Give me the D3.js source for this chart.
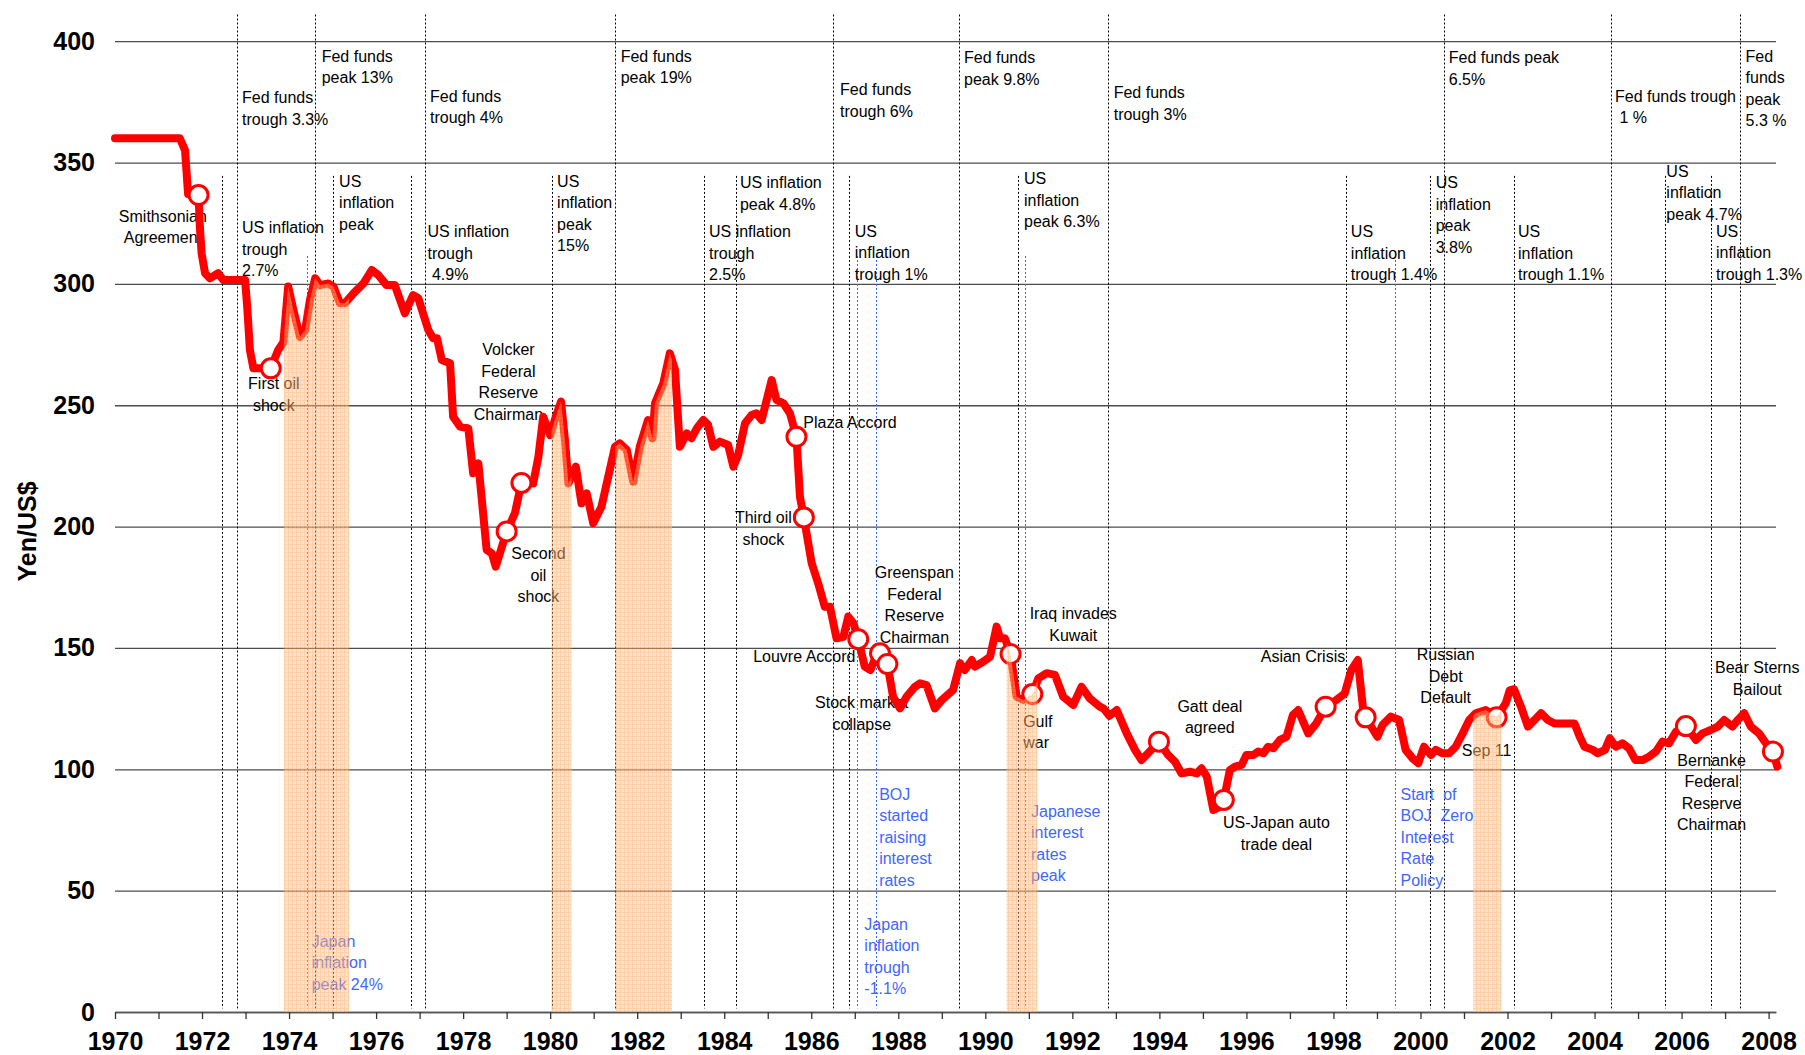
<!DOCTYPE html>
<html>
<head>
<meta charset="utf-8">
<script src="https://cdn.jsdelivr.net/npm/d3@7"></script>
<style>
body { margin: 0; background: #fff; }
svg { display: block; font-family: "Liberation Sans", Arial, sans-serif; }
.note { white-space: pre; font-size: 16px; }
</style>
</head>
<body>
<div id="chart"></div>
<script>
/* global d3 */

// yen per US dollar, [year, value]
var yenSeries = [
    [1970.00, 360], [1971.49, 360], [1971.61, 355], [1971.68, 337], [1971.92, 336.6],
    [1971.95, 323.6], [1971.99, 312.6], [1972.07, 304.4], [1972.18, 302.3], [1972.37, 304.4],
    [1972.49, 301.6], [1972.99, 301.6], [1973.04, 290], [1973.10, 272.8], [1973.18, 265.2],
    [1973.41, 265.2], [1973.58, 265.2], [1973.75, 272.8], [1973.87, 276], [1973.98, 298.9],
    [1974.10, 289.2], [1974.25, 278.2], [1974.37, 281], [1974.48, 293.4], [1974.60, 302.3],
    [1974.71, 299.5], [1974.90, 300.2], [1975.02, 298.9], [1975.17, 292], [1975.28, 292],
    [1975.48, 296.1], [1975.71, 300.2], [1975.90, 305.7], [1976.05, 303.7], [1976.24, 299.5],
    [1976.43, 299.5], [1976.66, 287.9], [1976.85, 295.4], [1976.97, 294.1], [1977.20, 281],
    [1977.31, 277.6], [1977.40, 277.6], [1977.51, 268.6], [1977.70, 267.3], [1977.77, 245.3],
    [1977.93, 241.2], [1978.12, 240.5], [1978.23, 222], [1978.35, 226], [1978.54, 190.4],
    [1978.66, 189], [1978.75, 183.5], [1979.00, 198], [1979.19, 205.5], [1979.34, 218],
    [1979.61, 217.8], [1979.73, 228.8], [1979.84, 245.3], [1980.00, 237.7], [1980.13, 245.3],
    [1980.25, 251.5], [1980.34, 235.7], [1980.42, 217.8], [1980.59, 224.7], [1980.72, 209.6],
    [1980.84, 213.7], [1980.99, 201.4], [1981.18, 208.2], [1981.49, 232.9], [1981.60, 234.3],
    [1981.76, 231.6], [1981.91, 218.5], [1982.06, 232.9], [1982.25, 243.9], [1982.35, 236.4],
    [1982.41, 250.8], [1982.60, 259], [1982.75, 271.4], [1982.87, 264.5], [1982.98, 232.9],
    [1983.14, 238.4], [1983.25, 236.4], [1983.37, 240.5], [1983.52, 243.9], [1983.63, 241.9],
    [1983.75, 232.9], [1983.90, 235], [1984.09, 233.6], [1984.21, 224.7], [1984.32, 229.5],
    [1984.48, 242.6], [1984.63, 246], [1984.74, 246.7], [1984.86, 243.9], [1985.09, 260.4],
    [1985.20, 252.2], [1985.36, 250.8], [1985.51, 246.7], [1985.66, 237], [1985.74, 212.3],
    [1985.83, 203.8], [1986.01, 184.9], [1986.16, 176.6], [1986.31, 167], [1986.43, 167],
    [1986.58, 154], [1986.74, 154.6], [1986.85, 162.9], [1986.97, 160.2], [1987.08, 153.6],
    [1987.23, 142.3], [1987.36, 140.9], [1987.52, 148], [1987.58, 147.8], [1987.75, 143.4],
    [1987.88, 129.9], [1988.04, 125.1], [1988.19, 129.9], [1988.38, 134], [1988.50, 135.4],
    [1988.65, 134.7], [1988.84, 125.1], [1989.00, 128.6], [1989.26, 132.7], [1989.42, 143.7],
    [1989.53, 140.9], [1989.69, 145], [1989.76, 142.3], [1989.95, 144.3], [1990.11, 146.4],
    [1990.26, 158.8], [1990.34, 154], [1990.45, 154], [1990.58, 147.5], [1990.72, 129.9],
    [1990.87, 128.6], [1991.08, 131], [1991.22, 137.5], [1991.41, 139.6], [1991.60, 138.9],
    [1991.79, 129.9], [1992.02, 126.5], [1992.21, 134], [1992.40, 129.2], [1992.63, 125.8],
    [1992.72, 125], [1992.85, 122], [1993.02, 124.4], [1993.25, 114.8], [1993.44, 108],
    [1993.59, 103.8], [1993.74, 106.6], [1993.99, 111.4], [1994.20, 105.9], [1994.36, 103.1],
    [1994.51, 98.3], [1994.70, 99], [1994.86, 98.3], [1994.97, 100.4], [1995.09, 97],
    [1995.24, 83.2], [1995.39, 84.6], [1995.48, 87.4], [1995.62, 99.7], [1995.74, 101.1],
    [1995.89, 101.8], [1996.00, 105.9], [1996.16, 105.9], [1996.27, 107.3], [1996.39, 106.6],
    [1996.50, 109.3], [1996.62, 108.7], [1996.77, 112.1], [1996.92, 113.4], [1997.07, 122.4],
    [1997.19, 124.4], [1997.42, 114.8], [1997.61, 119], [1997.82, 125.8], [1998.07, 128.6],
    [1998.26, 131.3], [1998.41, 140.9], [1998.56, 145], [1998.68, 125.1], [1998.74, 121.4],
    [1999.01, 113.4], [1999.13, 118.3], [1999.32, 121.7], [1999.51, 120.3], [1999.66, 108],
    [1999.82, 104.5], [1999.95, 102.5], [2000.08, 109.3], [2000.24, 105.9], [2000.35, 108],
    [2000.51, 106.6], [2000.66, 106.6], [2000.81, 109.3], [2000.97, 114.8], [2001.12, 120.3],
    [2001.27, 123.1], [2001.50, 124.4], [2001.75, 121.4], [2001.96, 127.2], [2002.05, 132.5],
    [2002.15, 133], [2002.31, 125.8], [2002.47, 117.6], [2002.62, 120.3], [2002.77, 123.1],
    [2002.93, 120.3], [2003.08, 118.9], [2003.31, 118.9], [2003.54, 118.9], [2003.66, 113.4],
    [2003.77, 109.3], [2003.96, 108], [2004.07, 106.6], [2004.24, 108], [2004.35, 112.8],
    [2004.49, 109.3], [2004.64, 110.7], [2004.79, 108.7], [2004.94, 103.8], [2005.10, 103.8],
    [2005.25, 105.2], [2005.41, 107.3], [2005.56, 111.4], [2005.71, 110.7], [2005.87, 115.5],
    [2006.10, 117.8], [2006.33, 112.1], [2006.48, 114.8], [2006.67, 116.2], [2006.83, 117.6],
    [2006.98, 120.3], [2007.17, 117.6], [2007.29, 120.3], [2007.44, 123.1], [2007.59, 117.6],
    [2007.78, 114.8], [2007.94, 110.7], [2008.10, 107.3], [2008.20, 101.1]
];

var yTicks = [0, 50, 100, 150, 200, 250, 300, 350, 400];
var xTicks = d3.range(1970, 2009);

// US recessions (shaded)
var recessions = [[1973.88, 1975.38], [1980.03, 1980.49], [1981.50, 1982.80], [1990.49, 1991.20], [2001.21, 2001.86]];

// event markers on the line, [year, value]
var eventMarkers = [
    [1971.92, 336.6], [1973.58, 265.2], [1979.00, 198], [1979.34, 218], [1985.66, 237],
    [1985.83, 203.8], [1987.08, 153.6], [1987.58, 147.8], [1987.75, 143.4], [1990.58, 147.5],
    [1991.08, 131], [1993.99, 111.4], [1995.48, 87.4], [1997.82, 125.8], [1998.74, 121.4],
    [2001.75, 121.4], [2006.10, 117.8], [2008.10, 107.3]
];

var fedFundsYears = [1972.81, 1974.60, 1977.12, 1981.50, 1986.49, 1989.40, 1992.83, 2000.53, 2004.37, 2007.34];
var inflationYears = [1972.47, 1975.02, 1976.81, 1980.05, 1983.53, 1984.28, 1986.87, 1990.76, 1998.28, 2000.23, 2002.15, 2005.62, 2006.67];
var japanYears = [1974.41, 1987.06, 1987.48, 1990.92, 1999.42];

var fedFundsNotes = [
    { text: "Fed funds|trough 3.3%", year: 1972.92, value: 374.4 },
    { text: "Fed funds|peak 13%", year: 1974.75, value: 391.6 },
    { text: "Fed funds|trough 4%", year: 1977.24, value: 375.1 },
    { text: "Fed funds|peak 19%", year: 1981.62, value: 391.6 },
    { text: "Fed funds|trough 6%", year: 1986.66, value: 377.8 },
    { text: "Fed funds|peak 9.8%", year: 1989.51, value: 390.9 },
    { text: "Fed funds|trough 3%", year: 1992.95, value: 376.5 },
    { text: "Fed funds peak|6.5%", year: 2000.65, value: 390.9 },
    { text: "Fed funds trough| 1 %", year: 2004.47, value: 375.1 },
    { text: "Fed|funds|peak|5.3 %", year: 2007.47, value: 391.6 }
];

var inflationNotes = [
    { text: "US inflation|trough|2.7%", year: 1972.92, value: 320.8 },
    { text: "US|inflation|peak", year: 1975.15, value: 340.1 },
    { text: "US inflation|trough| 4.9%", year: 1977.18, value: 319.2 },
    { text: "US|inflation|peak|15%", year: 1980.16, value: 340.1 },
    { text: "US inflation|trough|2.5%", year: 1983.65, value: 319.2 },
    { text: "US inflation|peak 4.8%", year: 1984.36, value: 339.4 },
    { text: "US|inflation|trough 1%", year: 1987.00, value: 319.4 },
    { text: "US|inflation|peak 6.3%", year: 1990.89, value: 341.0 },
    { text: "US|inflation|trough 1.4%", year: 1998.40, value: 319.2 },
    { text: "US|inflation|peak|3.8%", year: 2000.35, value: 339.4 },
    { text: "US|inflation|trough 1.1%", year: 2002.24, value: 319.2 },
    { text: "US|inflation|peak 4.7%", year: 2005.65, value: 344.2 },
    { text: "US|inflation|trough 1.3%", year: 2006.79, value: 319.4 }
];

var japanNotes = [
    { text: "Japan|inflation|peak 24%", year: 1974.52, value: 26.9 },
    { text: "BOJ|started|raising|interest|rates", year: 1987.56, value: 87.4 },
    { text: "Japan|inflation|trough|-1.1%", year: 1987.22, value: 33.8 },
    { text: "Japanese|interest|rates|peak", year: 1991.05, value: 80.5 },
    { text: "Start  of|BOJ  Zero|Interest|Rate|Policy", year: 1999.54, value: 87.4 }
];

var eventNotes = [
    { text: "Smithsonian|Agreement", year: 1971.10, value: 325.6 },
    { text: "First oil|shock", year: 1973.65, value: 256.6 },
    { text: "Volcker|Federal|Reserve|Chairman", year: 1979.04, value: 270.6 },
    { text: "Second|oil|shock", year: 1979.73, value: 186.5 },
    { text: "Plaza Accord", year: 1986.89, value: 240.5 },
    { text: "Third oil|shock", year: 1984.90, value: 201.4 },
    { text: "Louvre Accord", year: 1985.84, value: 144.3 },
    { text: "Greenspan|Federal|Reserve|Chairman", year: 1988.37, value: 178.7 },
    { text: "Stock market|collapse", year: 1987.16, value: 125.1 },
    { text: "Iraq invades|Kuwait", year: 1992.02, value: 161.8 },
    { text: "Gatt deal|agreed", year: 1995.16, value: 123.7 },
    { text: "US-Japan auto|trade deal", year: 1996.69, value: 75.7 },
    { text: "Asian Crisis", year: 1997.30, value: 144.3 },
    { text: "Russian|Debt|Default", year: 2000.58, value: 145.0 },
    { text: "Sep 11", year: 2001.52, value: 105.5 },
    { text: "Bernanke|Federal|Reserve|Chairman", year: 2006.69, value: 101.5 },
    { text: "Bear Sterns|Bailout", year: 2007.74, value: 139.6 }
];
var gulfNote = [{ text: "Gulf|war", year: 1990.87, value: 117.6 }];

var width = 1805,
    height = 1055,
    lineHeight = 21.5;

var x = d3.scaleLinear().domain([1970, 2008.17]).range([115, 1776]);
var y = d3.scaleLinear().domain([0, 400]).range([1012, 41.2]);

var svg = d3.select("#chart").append("svg")
    .attr("width", width)
    .attr("height", height);

var defs = svg.append("defs");

var pattern = defs.append("pattern")
    .attr("id", "hatch")
    .attr("patternUnits", "userSpaceOnUse")
    .attr("width", 4)
    .attr("height", 4);
pattern.append("rect").attr("width", 4).attr("height", 4).attr("fill", "#ffc48e");
pattern.append("path").attr("d", "M0,0.5H4M0.5,0V4").attr("stroke", "#ff9f50").attr("stroke-width", 1);

var clip = defs.append("clipPath").attr("id", "recessionClip");
clip.selectAll("rect")
    .data(recessions)
    .enter().append("rect")
    .attr("x", function (d) { return x(d[0]); })
    .attr("width", function (d) { return x(d[1]) - x(d[0]); })
    .attr("y", 0)
    .attr("height", height);

// horizontal grid + y labels
var yAxis = svg.append("g")
    .attr("transform", "translate(" + x(1970) + ",0)")
    .call(d3.axisLeft(y)
        .tickValues(yTicks)
        .tickSize(-(x.range()[1] - x.range()[0]))
        .tickPadding(20));
yAxis.select(".domain").remove();
yAxis.selectAll(".tick line").attr("stroke", "#4d4d4d").attr("stroke-width", 1.3);
yAxis.selectAll(".tick text")
    .attr("fill", "#000")
    .style("font-size", "25px")
    .style("font-weight", "bold")
    .style("font-family", "'Liberation Sans', Arial, sans-serif");

// x axis
var xAxis = svg.append("g")
    .attr("transform", "translate(0," + y(0) + ")")
    .call(d3.axisBottom(x)
        .tickValues(xTicks)
        .tickSize(7)
        .tickSizeOuter(0)
        .tickPadding(13)
        .tickFormat(function (d) { return d % 2 === 0 ? d : ""; }));
xAxis.select(".domain").attr("stroke", "#555").attr("stroke-width", 1.5);
xAxis.selectAll(".tick line").attr("stroke", "#333").attr("stroke-width", 1.3);
xAxis.selectAll(".tick text")
    .attr("fill", "#000")
    .style("font-size", "25px")
    .style("font-weight", "bold")
    .style("font-family", "'Liberation Sans', Arial, sans-serif");

svg.append("text")
    .attr("transform", "translate(36," + y(198) + ")rotate(-90)")
    .attr("text-anchor", "middle")
    .style("font-size", "25px")
    .style("font-weight", "bold")
    .text("Yen/US$");

// vertical event lines
function vLines(years, top, colour, dash) {
    svg.append("g").selectAll("line")
        .data(years)
        .enter().append("line")
        .attr("x1", function (d) { return Math.round(x(d)) + 0.5; })
        .attr("x2", function (d) { return Math.round(x(d)) + 0.5; })
        .attr("y1", y(top))
        .attr("y2", y(1.5))
        .attr("stroke", colour)
        .attr("stroke-width", 1)
        .attr("stroke-dasharray", dash);
}
vLines(fedFundsYears, 411, "#000", "2,2");
vLines(inflationYears, 344.5, "#000", "2,2");
vLines(japanYears, 311.5, "#3b63f5", "2,2");

function notes(data, colour, anchor) {
    var t = svg.append("g").selectAll("text")
        .data(data)
        .enter().append("text")
        .attr("class", "note")
        .attr("x", function (d) { return x(d.year); })
        .attr("y", function (d) { return y(d.value); })
        .attr("text-anchor", anchor)
        .attr("fill", colour);
    t.selectAll("tspan")
        .data(function (d) { return d.text.split("|").map(function (s) { return { s: s, year: d.year }; }); })
        .enter().append("tspan")
        .attr("x", function (e) { return x(e.year); })
        .attr("dy", function (e, i) { return i ? lineHeight : 0; })
        .text(function (e) { return e.s; });
}
notes(fedFundsNotes, "#000", "start");
notes(inflationNotes, "#000", "start");
notes(japanNotes, "#3f66ff", "start");
notes(eventNotes, "#000", "middle");
notes(gulfNote, "#000", "start");

// yen line
var line = d3.line()
    .x(function (d) { return x(d[0]); })
    .y(function (d) { return y(d[1]); });

svg.append("path")
    .datum(yenSeries)
    .attr("fill", "none")
    .attr("stroke", "#ff0000")
    .attr("stroke-width", 8)
    .attr("stroke-linejoin", "round")
    .attr("stroke-linecap", "round")
    .attr("d", line);

svg.append("g").selectAll("circle")
    .data(eventMarkers)
    .enter().append("circle")
    .attr("cx", function (d) { return x(d[0]); })
    .attr("cy", function (d) { return y(d[1]); })
    .attr("r", 9.5)
    .attr("fill", "#fff")
    .attr("stroke", "#ff0000")
    .attr("stroke-width", 3);

// recession shading, laid over everything
var area = d3.area()
    .x(function (d) { return x(d[0]); })
    .y0(y(0))
    .y1(function (d) { return y(d[1]); });

svg.append("path")
    .datum(yenSeries)
    .attr("clip-path", "url(#recessionClip)")
    .attr("fill", "url(#hatch)")
    .attr("opacity", 0.5)
    .attr("d", area);
</script>
</body>
</html>
